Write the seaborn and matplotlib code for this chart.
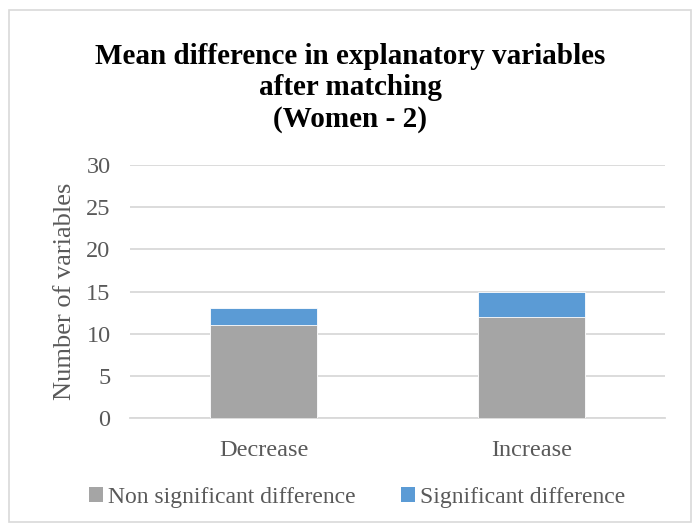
import matplotlib
matplotlib.use("Agg")
import matplotlib.pyplot as plt
from matplotlib.patches import Rectangle, Patch
import seaborn as sns
import pandas as pd

categories = ["Decrease", "Increase"]
non_significant = [11, 12]
significant = [2, 3]
series_names = ["Non significant difference", "Significant difference"]
y_ticks = [0, 5, 10, 15, 20, 25, 30]

GRAY = "#A5A5A5"
BLUE = "#5B9BD5"
GRID = "#D9D9D9"
TEXT = "#595959"

sns.set_theme(style="white")
plt.rcParams["font.family"] = ["Liberation Serif", "DejaVu Serif"]

df = pd.DataFrame({
    "category": categories,
    "non_sig": non_significant,
    "total": [a + b for a, b in zip(non_significant, significant)],
})

fig = plt.figure(figsize=(7, 5.3), dpi=100)
ax = fig.add_axes([0.1857, 0.2113, 0.7643, 0.4774])

# stacked bars: full height in blue, lower segment in gray on top of it
sns.barplot(data=df, x="category", y="total", color=BLUE, width=0.4,
            saturation=1, ax=ax, zorder=3)
sns.barplot(data=df, x="category", y="non_sig", color=GRAY, width=0.4,
            saturation=1, ax=ax, zorder=3)
for p in ax.patches:
    p.set_edgecolor("white")
    p.set_linewidth(0.6)

ax.set_ylim(0, 30)
ax.set_yticks(y_ticks)
ax.set_xlim(-0.5, 1.5)
ax.yaxis.grid(True, color=GRID, linewidth=1.3, zorder=0)
ax.set_axisbelow(True)
for s in ["top", "right", "left"]:
    ax.spines[s].set_visible(False)
ax.spines["bottom"].set_color(GRID)
ax.spines["bottom"].set_linewidth(1.3)
ax.tick_params(axis="both", length=0, labelsize=17.5, labelcolor=TEXT)
ax.tick_params(axis="x", pad=16)
ax.tick_params(axis="y", pad=14)
ax.set_xlabel("")
ax.set_ylabel("Number of variables", fontsize=19, color=TEXT, labelpad=7)

fig.text(0.5, 0.834,
         "Mean difference in explanatory variables\nafter matching\n(Women - 2)",
         ha="center", va="center", fontsize=21, fontweight="bold",
         color="black", linespacing=1.2)

handles = [Patch(facecolor=GRAY, edgecolor="none"),
           Patch(facecolor=BLUE, edgecolor="none")]
fig.legend(handles, series_names, loc="center", bbox_to_anchor=(0.51, 0.062),
           ncol=2, frameon=False, fontsize=17, labelcolor=TEXT,
           handlelength=0.6, handleheight=0.6, handletextpad=0.2,
           columnspacing=1.9)

fig.patches.append(Rectangle((0.013, 0.015), 0.974, 0.967, transform=fig.transFigure,
                             fill=False, edgecolor="#D9D9D9", linewidth=1.2))

fig.savefig("out.png", dpi=100)
